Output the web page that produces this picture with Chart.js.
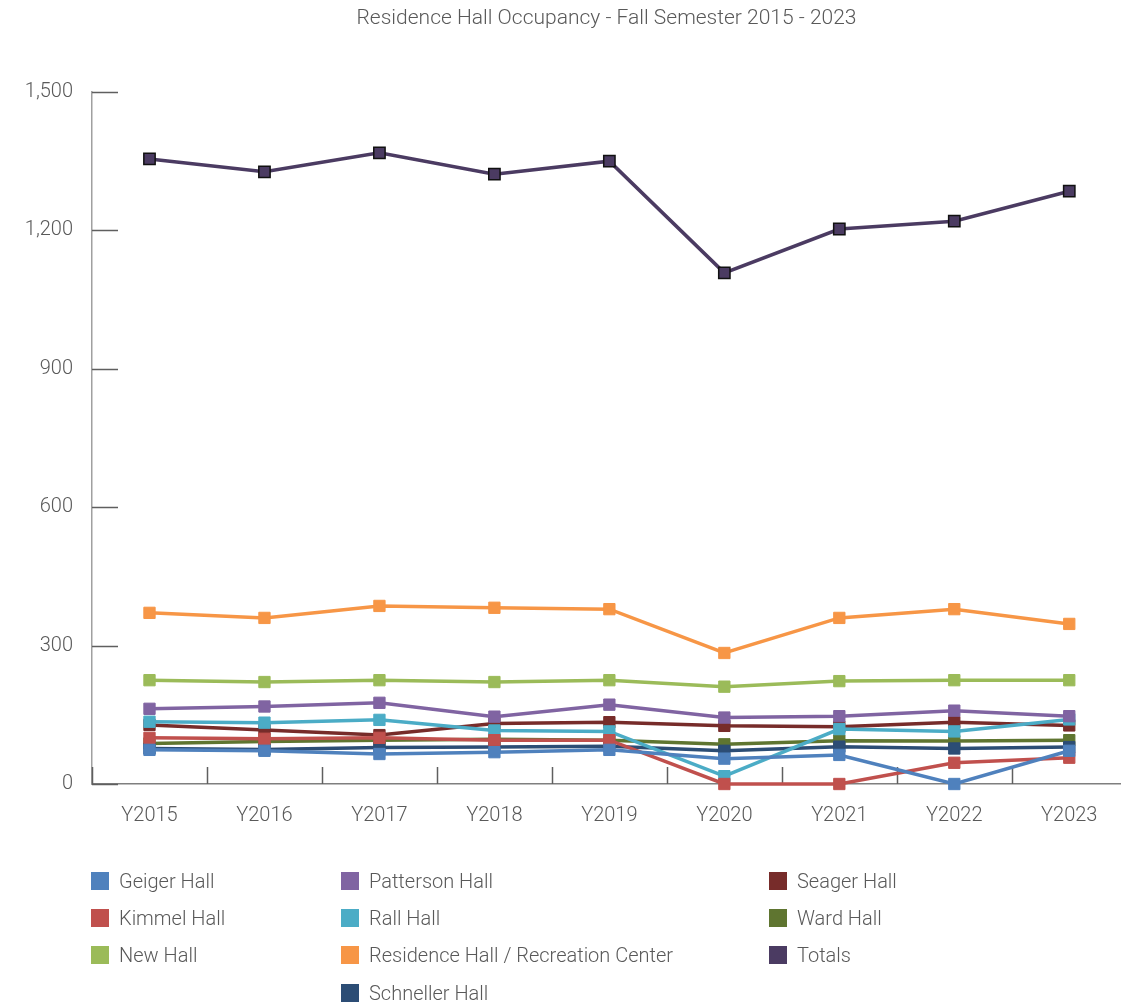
<!DOCTYPE html>
<html>
<head>
<meta charset="utf-8">
<script src="https://cdn.jsdelivr.net/npm/chart.js@4"></script>
<style>
  body { margin: 0; background: #fff; font-family: Roboto, sans-serif; }
  #wrap { position: relative; width: 1121px; height: 1005px; }
  #legend { position: absolute; left: 0; top: 0; width: 1121px; height: 1005px; pointer-events: none; }
  .item { position: absolute; height: 24px; display: flex; align-items: center; color: #595959; font-size: 20px; font-weight: 300; white-space: nowrap; }
  .box { width: 18px; height: 18px; margin-right: 10px; }
</style>
</head>
<body>
<div id="wrap">
  <canvas id="occupancy"></canvas>
  <div id="legend"></div>
</div>
<script>
const years = ['Y2015', 'Y2016', 'Y2017', 'Y2018', 'Y2019', 'Y2020', 'Y2021', 'Y2022', 'Y2023'];

const geiger    = [74, 72, 65, 69, 74, 55, 63, 0, 72];
const kimmel    = [100, 98, 100, 95, 95, 0, 0, 46, 57];
const newHall   = [225, 221, 225, 221, 225, 211, 223, 225, 225];
const patterson = [163, 168, 176, 146, 172, 144, 147, 159, 147];
const rall      = [135, 133, 139, 116, 114, 17, 119, 114, 140];
const resHall   = [371, 360, 386, 382, 379, 284, 360, 379, 347];
const schneller = [77, 75, 79, 80, 82, 72, 81, 77, 80];
const seager    = [128, 117, 106, 131, 134, 126, 124, 134, 127];
const ward      = [88, 92, 95, 97, 95, 86, 94, 93, 95];
const totals    = [1355, 1327, 1368, 1322, 1350, 1108, 1203, 1220, 1285];

const yTicks = [0, 300, 600, 900, 1200, 1500];

const series = [
  { name: 'Geiger Hall', values: geiger, color: '#4F81BD' },
  { name: 'Kimmel Hall', values: kimmel, color: '#C0504D' },
  { name: 'New Hall', values: newHall, color: '#9BBB59' },
  { name: 'Patterson Hall', values: patterson, color: '#8064A2' },
  { name: 'Rall Hall', values: rall, color: '#4BACC6' },
  { name: 'Residence Hall / Recreation Center', values: resHall, color: '#F79646' },
  { name: 'Schneller Hall', values: schneller, color: '#2C4D75' },
  { name: 'Seager Hall', values: seager, color: '#772C2A' },
  { name: 'Ward Hall', values: ward, color: '#5F7530' },
  { name: 'Totals', values: totals, color: '#4B3B62', edge: '#111111' }
];

// legend is laid out by column, like the original
const legendCols = [
  { x: 91, names: ['Geiger Hall', 'Kimmel Hall', 'New Hall'] },
  { x: 341, names: ['Patterson Hall', 'Rall Hall', 'Residence Hall / Recreation Center', 'Schneller Hall'] },
  { x: 769, names: ['Seager Hall', 'Ward Hall', 'Totals'] }
];
const legendRows = [881, 918, 955, 993];

const legend = document.getElementById('legend');
legendCols.forEach(col => {
  col.names.forEach((name, r) => {
    const s = series.find(d => d.name === name);
    const el = document.createElement('div');
    el.className = 'item';
    el.style.left = col.x + 'px';
    el.style.top = (legendRows[r] - 12) + 'px';
    el.innerHTML = '<span class="box" style="background:' + s.color + '"></span>' + name;
    legend.appendChild(el);
  });
});

const inwardTicks = {
  id: 'inwardTicks',
  beforeDatasetsDraw(chart) {
    const ctx = chart.ctx;
    const x = chart.scales.x;
    const y = chart.scales.y;
    const area = chart.chartArea;
    ctx.save();
    ctx.strokeStyle = '#5f5f5f';
    ctx.lineWidth = 1.5;
    ctx.beginPath();
    yTicks.forEach(v => {
      const py = Math.round(y.getPixelForValue(v)) + 0.5;
      ctx.moveTo(area.left, py);
      ctx.lineTo(area.left + 26, py);
    });
    for (let i = 0; i < years.length; i++) {
      const px = Math.round(x.getPixelForValue(i - 0.5)) + 0.5;
      ctx.moveTo(px, area.bottom);
      ctx.lineTo(px, area.bottom - 17);
    }
    ctx.stroke();
    ctx.restore();
  }
};

new Chart(document.getElementById('occupancy'), {
  type: 'line',
  data: {
    datasets: series.map(s => ({
      label: s.name,
      data: s.values.map((v, i) => ({ x: i, y: v })),
      borderColor: s.color,
      backgroundColor: s.color,
      borderWidth: 3.5,
      pointStyle: 'rect',
      pointRadius: 8,
      pointHoverRadius: 8,
      pointBackgroundColor: s.color,
      pointBorderColor: s.edge || s.color,
      pointBorderWidth: s.edge ? 1.5 : 1,
      tension: 0,
      clip: false
    }))
  },
  options: {
    responsive: true,
    maintainAspectRatio: false,
    animation: false,
    layout: { autoPadding: false, padding: { left: 0, right: 0, top: 0, bottom: 161 } },
    plugins: {
      legend: { display: false },
      tooltip: { enabled: false },
      title: {
        display: true,
        text: 'Residence Hall Occupancy - Fall Semester 2015 - 2023',
        fullSize: false,
        color: '#595959',
        font: { family: 'Roboto', size: 21, weight: 300, lineHeight: 1.2 },
        padding: { top: 6.4, bottom: 60.4 }
      }
    },
    scales: {
      x: {
        type: 'linear',
        min: -0.5,
        max: 8.45,
        afterBuildTicks: scale => { scale.ticks = years.map((_, i) => ({ value: i })); },
        afterFit: scale => { scale.height = 60; scale.paddingLeft = 0; scale.paddingRight = 0; },
        grid: { display: false, drawTicks: false },
        border: { display: true, color: '#7f7f7f', width: 1.5 },
        ticks: {
          padding: 20,
          color: '#595959',
          font: { family: 'Roboto', size: 20, weight: 300 },
          callback: v => years[v]
        }
      },
      y: {
        min: 0,
        max: 1500,
        afterBuildTicks: scale => { scale.ticks = yTicks.map(v => ({ value: v })); },
        afterFit: scale => { scale.width = 92; },
        grid: { display: false, drawTicks: false },
        border: { display: true, color: '#a0a0a0', width: 1.5 },
        ticks: {
          padding: 19,
          color: '#595959',
          font: { family: 'Roboto', size: 20, weight: 300 }
        }
      }
    }
  },
  plugins: [inwardTicks]
});
</script>
</body>
</html>
